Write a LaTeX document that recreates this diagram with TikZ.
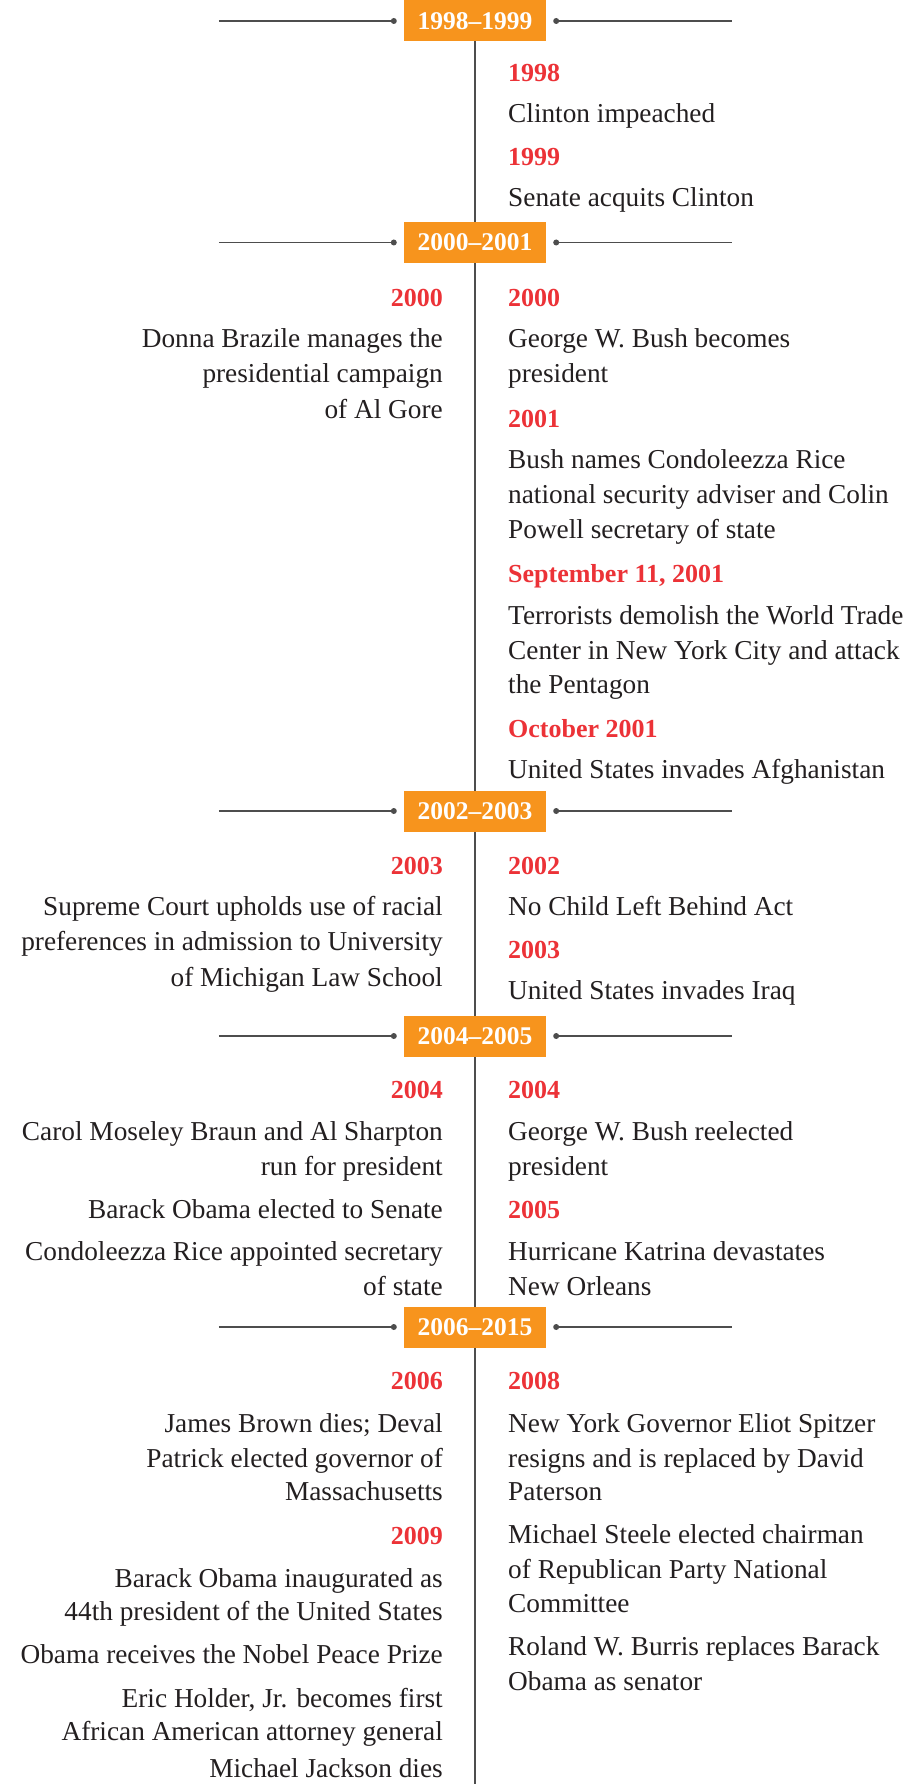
\documentclass[tikz,border=0pt]{standalone}
\usepackage{fontspec}
\setmainfont{Liberation Serif}
\definecolor{bandorange}{HTML}{F7941D}
\definecolor{yearred}{HTML}{EC3237}
\definecolor{inkdark}{HTML}{231F20}
\definecolor{rulegray}{HTML}{4D4D4D}
\tikzset{
  body/.style={inner sep=0pt, text=inkdark, font=\fontsize{27.3}{32}\selectfont},
  rt/.style={body, anchor=base west},
  lt/.style={body, anchor=base east},
  ry/.style={rt, text=yearred, font=\fontsize{26}{32}\selectfont\bfseries},
  ly/.style={lt, text=yearred, font=\fontsize{26}{32}\selectfont\bfseries},
  band/.style={fill=bandorange, text=white, inner sep=0pt, minimum width=142pt,
    minimum height=41pt, font=\fontsize{25.5}{30}\selectfont\bfseries},
  spine/.style={draw=rulegray, line width=1.8pt},
  arm/.style={draw=rulegray, line width=1.8pt},
}
\newcommand{\bandrow}[3]{%
  \node[band] (#1) at (475,#2) {#3};
  \coordinate (#1-la) at ([xshift=-185pt]#1.west);
  \coordinate (#1-lb) at ([xshift=-10pt]#1.west);
  \coordinate (#1-ra) at ([xshift=10pt]#1.east);
  \coordinate (#1-rb) at ([xshift=186pt]#1.east);
  \draw[arm] (#1-la) -- (#1-lb);
  \draw[arm] (#1-ra) -- (#1-rb);
  \fill[rulegray] (#1-lb) circle (3pt);
  \fill[rulegray] (#1-ra) circle (3pt);
}
\begin{document}
\begin{tikzpicture}[x=1pt,y=-1pt]
\useasboundingbox (0,0) rectangle (921,1784);
\fill[white] (0,0) rectangle (921,1784);

% central spine
\coordinate (spinetop) at (475,0);
\coordinate (spinebot) at (475,1784);
\draw[spine] (spinetop) -- (spinebot);

% period bands
\bandrow{b1}{21}{1998--1999}
\bandrow{b2}{242.5}{2000--2001}
\bandrow{b3}{811}{2002--2003}
\bandrow{b4}{1036}{2004--2005}
\bandrow{b5}{1327}{2006--2015}

% 1998-1999, right side
\node[ry] (r1) at (508,82) {1998};
\node[rt] (r2) at (508,123) {Clinton impeached};
\node[ry] (r3) at (508,166) {1999};
\node[rt] (r4) at (508,207) {Senate acquits Clinton};

% 2000-2001, left side
\node[ly] (l1) at (443,306) {2000};
\node[lt] (l2) at (443,347) {Donna Brazile manages the};
\node[lt] (l3) at (443,382) {presidential campaign};
\node[lt] (l4) at (443,418) {of Al Gore};

% 2000-2001, right side
\node[ry] (r5) at (508,306) {2000};
\node[rt] (r6) at (508,347) {George W. Bush becomes};
\node[rt] (r7) at (508,382) {president};
\node[ry] (r8) at (508,427) {2001};
\node[rt] (r9) at (508,468) {Bush names Condoleezza Rice};
\node[rt] (r10) at (508,503) {national security adviser and Colin};
\node[rt] (r11) at (508,538) {Powell secretary of state};
\node[ry] (r12) at (508,582) {September 11, 2001};
\node[rt] (r13) at (508,624) {Terrorists demolish the World Trade};
\node[rt] (r14) at (508,659) {Center in New York City and attack};
\node[rt] (r15) at (508,693) {the Pentagon};
\node[ry] (r16) at (508,737) {October 2001};
\node[rt] (r17) at (508,778) {United States invades Afghanistan};

% 2002-2003, left side
\node[ly] (l5) at (443,874) {2003};
\node[lt] (l6) at (443,915) {Supreme Court upholds use of racial};
\node[lt] (l7) at (443,950) {preferences in admission to University};
\node[lt] (l8) at (443,986) {of Michigan Law School};

% 2002-2003, right side
\node[ry] (r18) at (508,874) {2002};
\node[rt] (r19) at (508,915) {No Child Left Behind Act};
\node[ry] (r20) at (508,958) {2003};
\node[rt] (r21) at (508,999) {United States invades Iraq};

% 2004-2005, left side
\node[ly] (l9) at (443,1098) {2004};
\node[lt] (l10) at (443,1140) {Carol Moseley Braun and Al Sharpton};
\node[lt] (l11) at (443,1175) {run for president};
\node[lt] (l12) at (443,1218) {Barack Obama elected to Senate};
\node[lt] (l13) at (443,1260) {Condoleezza Rice appointed secretary};
\node[lt] (l14) at (443,1295) {of state};

% 2004-2005, right side
\node[ry] (r22) at (508,1098) {2004};
\node[rt] (r23) at (508,1140) {George W. Bush reelected};
\node[rt] (r24) at (508,1175) {president};
\node[ry] (r25) at (508,1218) {2005};
\node[rt] (r26) at (508,1260) {Hurricane Katrina devastates};
\node[rt] (r27) at (508,1295) {New Orleans};

% 2006-2015, left side
\node[ly] (l15) at (443,1389) {2006};
\node[lt] (l16) at (443,1432) {James Brown dies; Deval};
\node[lt] (l17) at (443,1467) {Patrick elected governor of};
\node[lt] (l18) at (443,1500) {Massachusetts};
\node[ly] (l19) at (443,1544) {2009};
\node[lt] (l20) at (443,1587) {Barack Obama inaugurated as};
\node[lt] (l21) at (443,1620) {44th president of the United States};
\node[lt] (l22) at (443,1663) {Obama receives the Nobel Peace Prize};
\node[lt] (l23) at (443,1707) {Eric Holder, Jr. becomes first};
\node[lt] (l24) at (443,1740) {African American attorney general};
\node[lt] (l25) at (443,1777) {Michael Jackson dies};

% 2006-2015, right side
\node[ry] (r28) at (508,1389) {2008};
\node[rt] (r29) at (508,1432) {New York Governor Eliot Spitzer};
\node[rt] (r30) at (508,1467) {resigns and is replaced by David};
\node[rt] (r31) at (508,1500) {Paterson};
\node[rt] (r32) at (508,1543) {Michael Steele elected chairman};
\node[rt] (r33) at (508,1578) {of Republican Party National};
\node[rt] (r34) at (508,1612) {Committee};
\node[rt] (r35) at (508,1655) {Roland W. Burris replaces Barack};
\node[rt] (r36) at (508,1690) {Obama as senator};
\end{tikzpicture}
\end{document}
